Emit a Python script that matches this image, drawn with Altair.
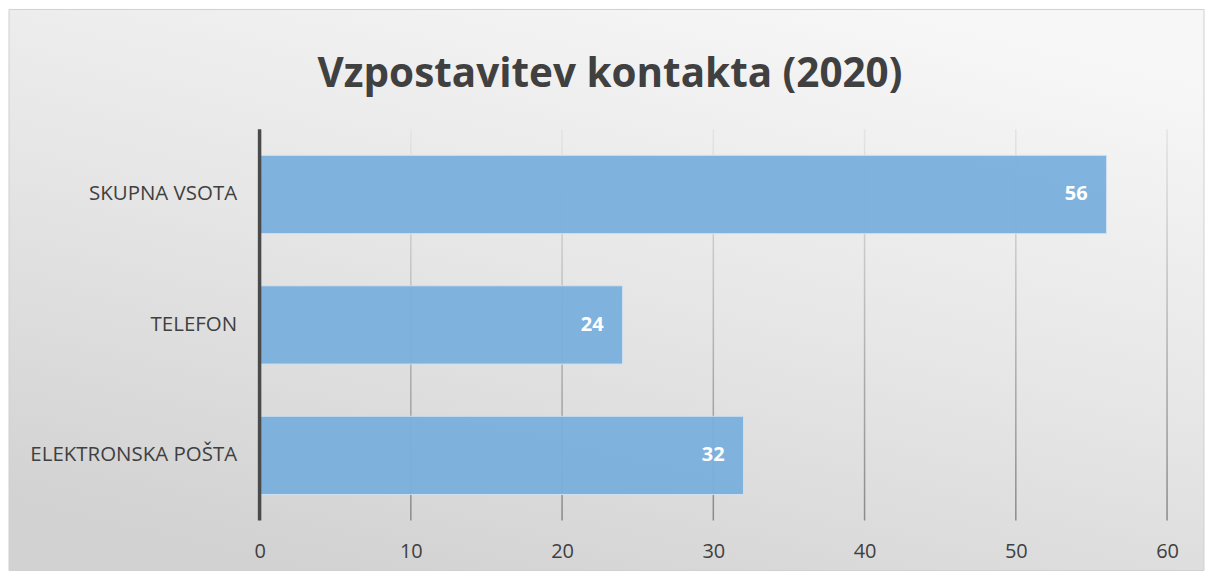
import altair as alt
import pandas as pd

categories = ["SKUPNA VSOTA", "TELEFON", "ELEKTRONSKA POŠTA"]
values = [56, 24, 32]
ticks = [10, 20, 30, 40, 50, 60]
title_text = "Vzpostavitev kontakta (2020)"

W, H = 909, 392
FONT = "Open Sans"

df = pd.DataFrame({"cat": categories, "val": values})
grid_df = pd.DataFrame({"tick": ticks})

bg = alt.Chart(pd.DataFrame({"a": [0]})).mark_rect(
    fill=alt.LinearGradient(
        gradient="linear",
        stops=[alt.GradientStop(color="#f7f7f7", offset=0),
               alt.GradientStop(color="#e6e6e6", offset=0.5),
               alt.GradientStop(color="#d2d2d2", offset=1)],
        x1=0.75, y1=0, x2=0.25, y2=1),
    stroke="#d0d0d0", strokeWidth=1,
).encode(x=alt.value(-251), x2=alt.value(946), y=alt.value(-120), y2=alt.value(442))

grid = alt.Chart(grid_df).transform_calculate(
    t0="datum.tick - 0.05", t1="datum.tick + 0.05"
).mark_rect(
    fill=alt.LinearGradient(
        gradient="linear",
        stops=[alt.GradientStop(color="#e4e4e4", offset=0),
               alt.GradientStop(color="#8a8a8a", offset=1)],
        x1=0, y1=0, x2=0, y2=1),
).encode(
    x=alt.X("t0:Q", scale=alt.Scale(domain=[0, 60])),
    x2="t1:Q",
    y=alt.value(0), y2=alt.value(H),
)

yenc = alt.Y("cat:N", sort=categories,
             scale=alt.Scale(paddingInner=0.4, paddingOuter=0.2),
             axis=alt.Axis(title=None, ticks=False, domain=False, grid=False,
                           labelFont=FONT, labelFontSize=20.5, labelColor="#404040",
                           labelPadding=23, labelLimit=400, zindex=2))
xenc = alt.X("val:Q", scale=alt.Scale(domain=[0, 60]),
             axis=alt.Axis(title=None, values=[0] + ticks, grid=False, ticks=False,
                           domain=False, labelFont=FONT, labelFontSize=20,
                           labelColor="#404040", labelPadding=21, labelFlush=False,
                           zindex=2))

bars = alt.Chart(df).mark_bar(
    fill="#7ab0dd", opacity=0.95, stroke="#cfe2f3", strokeWidth=1
).encode(x=xenc, y=yenc)

labels = alt.Chart(df).mark_text(
    align="right", baseline="middle", dx=-19, font=FONT, fontSize=20,
    fontWeight="bold", color="white"
).encode(x="val:Q", y=alt.Y("cat:N", sort=categories), text="val:Q")

axisline = alt.Chart(pd.DataFrame({"a": [0]})).mark_rule(
    stroke="#4a4a4a", strokeWidth=3.5
).encode(x=alt.value(0), y=alt.value(0), y2=alt.value(H))

title = alt.Chart(pd.DataFrame({"t": [title_text]})).mark_text(
    align="center", baseline="alphabetic", font=FONT, fontSize=40.5,
    fontWeight="bold", color="#404040"
).encode(x=alt.value(351), y=alt.value(-42), text="t:N")

chart = alt.layer(bg, grid, bars, labels, axisline, title).properties(
    width=W, height=H, padding=0
).configure_view(stroke=None)

chart.save("out.html", embed_options={"renderer": "svg", "actions": False})
